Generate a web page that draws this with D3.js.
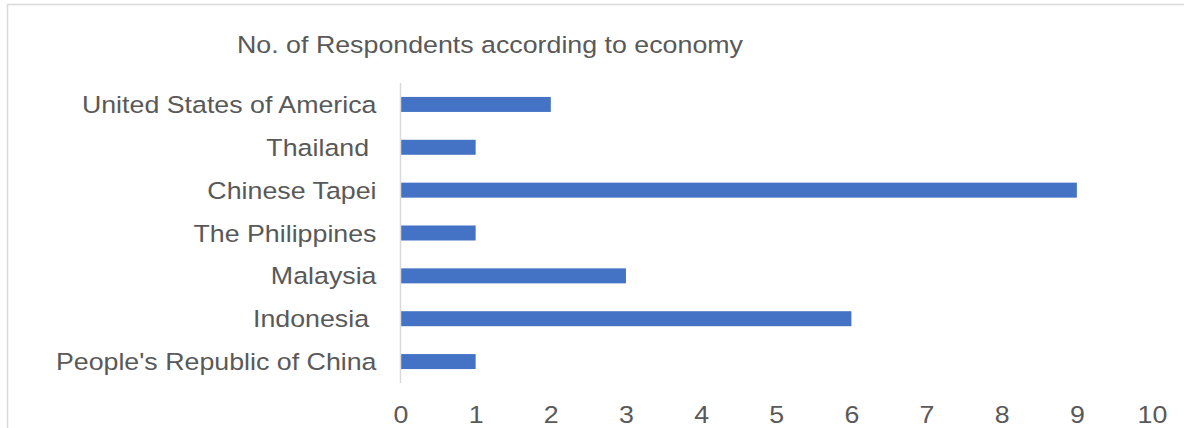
<!DOCTYPE html>
<html>
<head>
<meta charset="utf-8">
<script src="https://cdn.jsdelivr.net/npm/d3@7"></script>
<style>
html,body{margin:0;padding:0;background:#fff;}
text{font-family:"Liberation Sans",Arial,sans-serif;fill:#595959;white-space:pre;}
</style>
</head>
<body>
<svg id="chart" width="1184" height="428"></svg>
<script>
const categories = ["United States of America","Thailand ","Chinese Tapei","The Philippines","Malaysia","Indonesia ","People's Republic of China"];
const values = [2,1,9,1,3,6,1];
const xTicks = [0,1,2,3,4,5,6,7,8,9,10];
const title = "No. of Respondents according to economy";

const svg = d3.select("#chart");
const plot = {left:400.5, right:1152, top:83, bottom:383};
const FS = "24.5px", SX = 1.093;

svg.append("rect").attr("x",7.5).attr("y",4.5).attr("width",1190).attr("height",440)
  .attr("fill","none").attr("stroke","#d9d9d9").attr("stroke-width",1.5);

const x = d3.scaleLinear().domain([0,10]).range([plot.left, plot.right]);
const y = d3.scaleBand().domain(categories).range([plot.top, plot.bottom]).paddingInner(0.65).paddingOuter(0.325);

svg.append("text").attr("transform",`translate(490,52.5) scale(${SX},1)`).attr("text-anchor","middle")
  .style("font-size",FS).text(title);

svg.append("g").selectAll("rect").data(categories).join("rect")
  .attr("x", x(0)).attr("y", d=>y(d))
  .attr("width", (d,i)=>x(values[i])-x(0)).attr("height", y.bandwidth())
  .attr("fill","#4472C4");

svg.append("line").attr("x1",plot.left).attr("x2",plot.left)
  .attr("y1",plot.top).attr("y2",plot.bottom).attr("stroke","#d9d9d9").attr("stroke-width",1.5);

const yAxis = svg.append("g").attr("transform",`translate(${plot.left},0)`)
  .call(d3.axisLeft(y).tickSize(0).tickPadding(24));
yAxis.select(".domain").remove();
yAxis.selectAll("text").style("font-size",FS).attr("fill","#595959").attr("font-family",null)
  .attr("dy","0.35em").attr("x",-24/SX).attr("transform",`scale(${SX},1)`);

const xAxis = svg.append("g").attr("transform",`translate(0,${plot.bottom})`)
  .call(d3.axisBottom(x).tickValues(xTicks).tickSize(0).tickPadding(0).tickFormat(d3.format("d")));
xAxis.select(".domain").remove();
xAxis.selectAll("text").style("font-size",FS).attr("fill","#595959").attr("font-family",null)
  .attr("dy",null).attr("y",40).attr("transform",`scale(${SX},1)`);
</script>
</body>
</html>
